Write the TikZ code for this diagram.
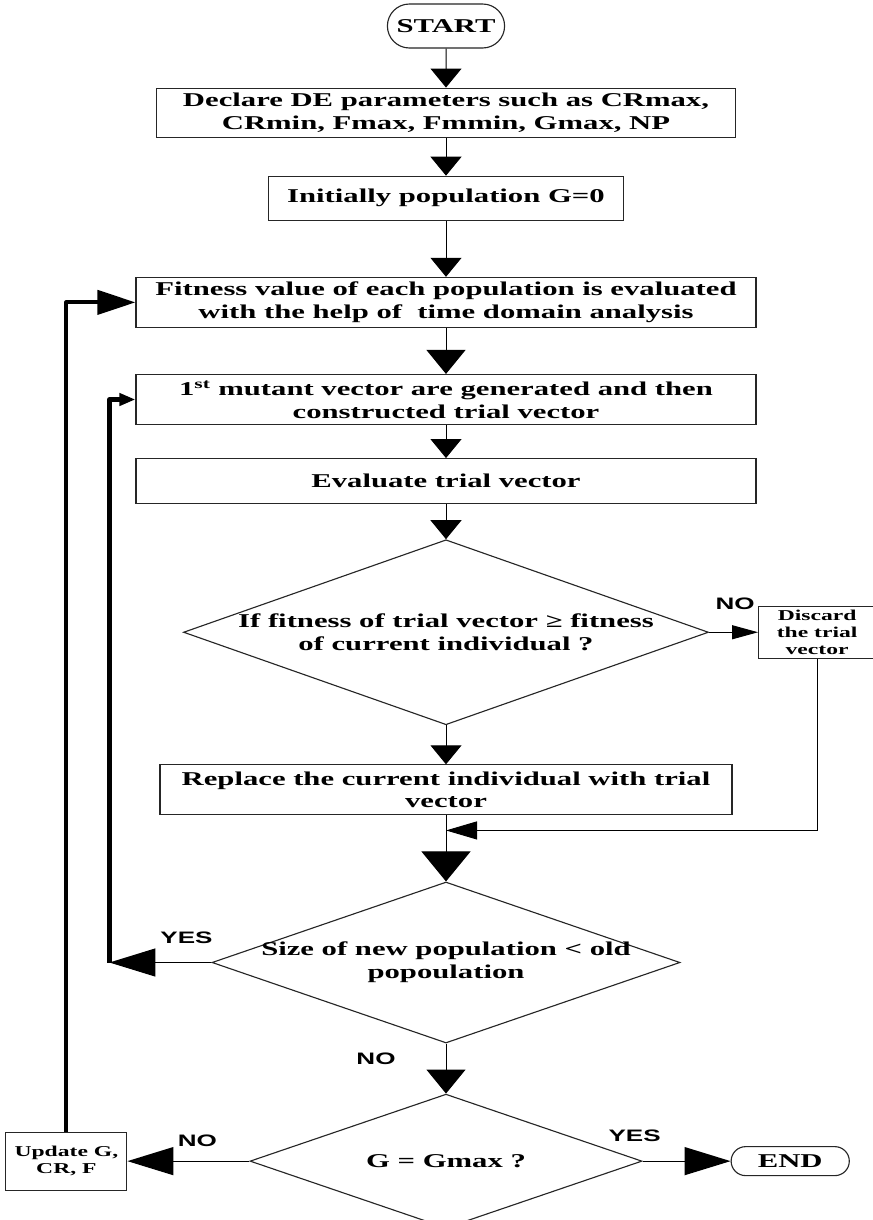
\documentclass[tikz,border=0pt]{standalone}
\usepackage{fontspec}
\usepackage{tikz}
\usetikzlibrary{positioning, arrows.meta, shapes.geometric, shapes.misc}
\setmainfont{Liberation Serif}[FakeStretch=1.57]
\newfontfamily\yesnofamily{Liberation Sans}[FakeStretch=1.57]
\newcommand{\boxfont}{\fontsize{13.9}{16.2}\selectfont\bfseries}
\newcommand{\notefont}{\fontsize{10.7}{12.3}\selectfont\bfseries}
\newcommand{\yesnofont}{\yesnofamily\fontsize{11.8}{13}\selectfont\bfseries}
\tikzset{
  terminal/.style     ={draw=black!85, rounded rectangle, line width=0.8pt,
                        font=\boxfont, inner sep=1pt},
  process/.style      ={draw=black!85, line width=0.8pt, align=center,
                        font=\boxfont, inner sep=1pt},
  smallbox/.style     ={process, font=\notefont},
  decision/.style     ={draw=black!85, diamond, line width=0.8pt, inner sep=0pt},
  decisiontext/.style ={align=center, font=\boxfont, inner sep=0pt},
  answer/.style       ={font=\yesnofont, inner sep=0pt},
  flow/.style         ={line width=0.7pt, -{Triangle[length=0.475cm, width=0.775cm]}},
  flowwide/.style     ={line width=0.7pt, -{Triangle[length=0.6cm, width=0.975cm]}},
  flowbig/.style      ={line width=0.7pt, -{Triangle[length=0.75cm, width=1.225cm]}},
  sideflow/.style     ={line width=0.9pt, -{Triangle[length=1.15cm, width=0.7cm]}},
  noflow/.style       ={line width=0.7pt, -{Triangle[length=0.65cm, width=0.35cm]}},
  mergeflow/.style    ={line width=0.7pt, -{Triangle[length=0.775cm, width=0.45cm]}},
  loopback/.style     ={line width=3pt, line join=round,
                        -{Triangle[length=0.95cm, width=0.6cm]}},
  loopbacksmall/.style={loopback, -{Triangle[length=0.4cm, width=0.3cm]}},
}

\begin{document}
\begin{tikzpicture}[node distance=1cm]
  \useasboundingbox[fill=white] (0,0) rectangle (21.825,-30.5);

  % ============================================================
  % MAIN COLUMN
  % ============================================================
  \node[terminal, minimum width=3cm, minimum height=1.1cm] (start)
       at (11.15,-0.65) {START};

  \node[process, below=0.975cm of start,
        minimum width=14.475cm, minimum height=1.225cm] (declare) {%
    Declare DE parameters such as CRmax,\\
    CRmin, Fmax, Fmmin, Gmax, NP};

  \node[process, below=0.95cm of declare,
        minimum width=8.875cm, minimum height=1.1cm] (init) {%
    Initially population G=0};

  \node[process, below=1.4cm of init,
        minimum width=15.5cm, minimum height=1.25cm] (fitness) {%
    Fitness value of each population is evaluated\\
    with the help of\ \ time domain analysis};

  \node[process, below=1.15cm of fitness,
        minimum width=15.5cm, minimum height=1.25cm] (mutant) {%
    1\textsuperscript{st} mutant vector are generated and then\\
    constructed trial vector};

  \node[process, below=0.825cm of mutant,
        minimum width=15.5cm, minimum height=1.125cm] (evaluate) {%
    Evaluate trial vector};

  \node[decision, below=0.875cm of evaluate,
        minimum width=13.125cm, minimum height=4.625cm] (fitcheck) {};
  \node[decisiontext] (fitchecktext) at (fitcheck) {%
    If fitness of trial vector ≥ fitness\\
    of current individual ?};

  \node[process, below=0.975cm of fitcheck,
        minimum width=14.3cm, minimum height=1.25cm] (replace) {%
    Replace the current individual with trial\\
    vector};

  \node[decision, below=1.65cm of replace,
        minimum width=11.7cm, minimum height=4.025cm] (sizecheck) {};
  \node[decisiontext] (sizechecktext) at (sizecheck) {%
    Size of new population < old\\
    popoulation};

  \node[decision, below=1.25cm of sizecheck,
        minimum width=9.8cm, minimum height=3.35cm] (gmaxcheck) {};
  \node[decisiontext] (gmaxchecktext) at (gmaxcheck) {G = Gmax ?};

  % ============================================================
  % SIDE NODES
  % ============================================================
  \node[smallbox, right=1.225cm of fitcheck,
        minimum width=2.925cm, minimum height=1.3cm] (discard) {%
    Discard\\the trial\\vector};

  \node[terminal, right=2.2cm of gmaxcheck,
        minimum width=3.025cm, minimum height=0.725cm] (finish) {END};

  \node[smallbox, left=3.05cm of gmaxcheck,
        minimum width=3.025cm, minimum height=1.45cm] (update) {%
    Update G,\\CR, F};

  % answers on the branches
  \node[answer] (nofit)   at ([shift={(-0.575,0.05)}]discard.north west) {NO};
  \node[answer] (yessize) at ([shift={(-0.625,0.6125)}]sizecheck.west)   {YES};
  \node[answer] (nosize)  at ([shift={(-1.75,-0.375)}]sizecheck.south)   {NO};
  \node[answer] (nogmax)  at ([shift={(-1.3,0.5)}]gmaxcheck.west)        {NO};
  \node[answer] (yesgmax) at ([shift={(-0.2,0.625)}]gmaxcheck.east)      {YES};

  % ============================================================
  % ARROWS
  % ============================================================
  \draw[flow]     (start)    -- (declare);
  \draw[flow]     (declare)  -- (init);
  \draw[flow]     (init)     -- (fitness);
  \draw[flowwide] (fitness)  -- (mutant);
  \draw[flow]     (mutant)   -- (evaluate);
  \draw[flow]     (evaluate) -- (fitcheck);
  \draw[flow]     (fitcheck) -- (replace);

  % rejected trial vector rejoins below the replace step
  \coordinate (merge) at ([yshift=-0.375cm]replace.south);
  \draw[noflow]    (fitcheck.east) -- (discard.west);
  \draw[mergeflow] (discard.south) |- (merge);
  \draw[flowbig]   (replace) -- (sizecheck);

  % inner loop back to mutation
  \coordinate (yesturn) at ([xshift=-2.55cm]sizecheck.west);
  \draw[sideflow]      (sizecheck.west) -- (yesturn);
  \draw[loopbacksmall] (yesturn) |- (mutant.west);

  \draw[flowwide] (sizecheck) -- (gmaxcheck);
  \draw[sideflow] (gmaxcheck.east) -- (finish.west);
  \draw[sideflow] (gmaxcheck.west) -- (update.east);

  % outer loop: next generation
  \draw[loopback] (update.north) |- (fitness.west);

\end{tikzpicture}
\end{document}
